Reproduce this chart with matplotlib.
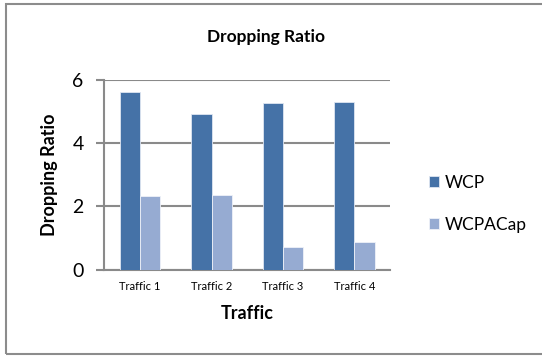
import numpy as np
import matplotlib.pyplot as plt
from matplotlib.patches import Rectangle

# Datos del gráfico
traffic = ['Traffic 1', 'Traffic 2', 'Traffic 3', 'Traffic 4']
wcp = [5.62, 4.93, 5.28, 5.29]
wcpacap = [2.33, 2.36, 0.73, 0.86]

plt.rcParams['font.family'] = ['Lato', 'DejaVu Sans']

fig = plt.figure(figsize=(5.42, 3.56), dpi=100)
ax = fig.add_axes([0.1928, 0.2424, 0.7194 - 0.1928, 0.7761 - 0.2424])

x = np.arange(len(traffic))
w = 0.284
ax.bar(x - w / 2, wcp, w, color='#4572A7', edgecolor='#dfe6f2', linewidth=0.6, label='WCP', zorder=3)
ax.bar(x + w / 2, wcpacap, w, color='#96ABD2', edgecolor='#eef1f8', linewidth=0.6, label='WCPACap', zorder=3)

ax.set_xlim(-0.5, len(traffic) - 0.5)
ax.set_ylim(0, 6)
ax.set_yticks([0, 2, 4, 6])
ax.set_xticks(x)
ax.set_xticklabels(traffic, fontsize=8)
ax.tick_params(axis='x', length=0, pad=8)
ax.tick_params(axis='y', length=6, width=1.5, color='#8a8a8a', labelsize=14, pad=9)

ax.yaxis.grid(True, color='#8a8a8a', linewidth=1.5, zorder=0)
for s in ['top', 'right']:
    ax.spines[s].set_visible(False)
ax.spines['left'].set_color('#8a8a8a')
ax.spines['left'].set_linewidth(1.5)
ax.spines['bottom'].set_color('#8a8a8a')
ax.spines['bottom'].set_linewidth(1.5)

ax.set_xlabel('Traffic', fontsize=13, fontweight='bold', va='center')
ax.xaxis.set_label_coords(0.5, -0.228)
ax.set_ylabel('Dropping Ratio', fontsize=13, fontweight='bold', va='center')
ax.yaxis.set_label_coords(-0.194, 0.5)
fig.text(266 / 542, 1 - 37 / 356, 'Dropping Ratio', fontsize=12.5, fontweight='bold',
         ha='center', va='center')

ax.legend(loc='center left', bbox_to_anchor=(413 / 542, 1 - 204 / 356),
          bbox_transform=fig.transFigure, frameon=False, fontsize=12.5,
          handlelength=0.6, handleheight=0.6, handletextpad=0.35, labelspacing=1.5)

# marco del gráfico
fig.patches.append(Rectangle((6 / 542, 1 - 354 / 356), 1.2, 350 / 356,
                             transform=fig.transFigure, fill=False,
                             edgecolor='#8c8c8c', linewidth=1.5))

fig.savefig('out.png', dpi=100)
